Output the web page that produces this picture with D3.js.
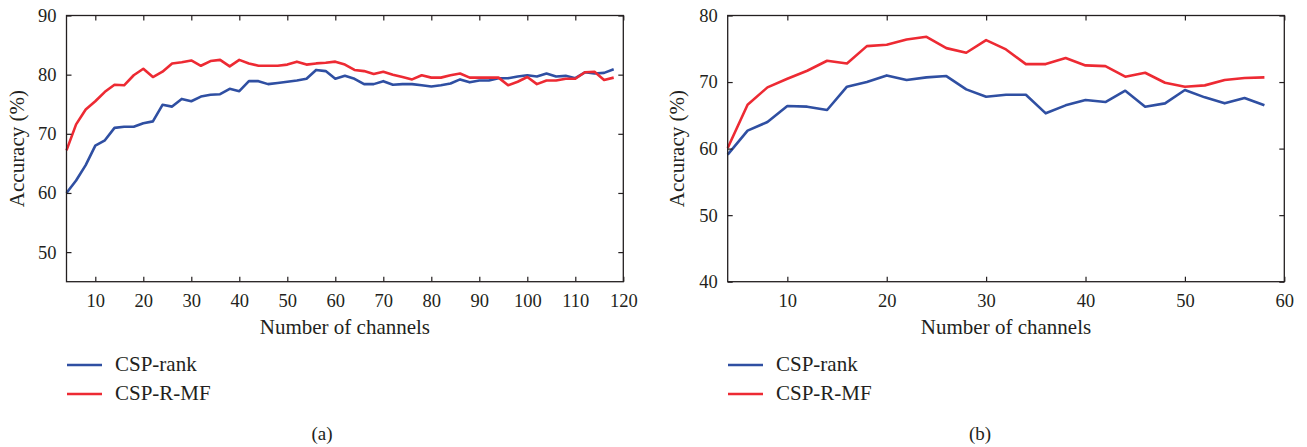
<!DOCTYPE html>
<html>
<head>
<meta charset="utf-8">
<script src="https://cdn.jsdelivr.net/npm/d3@7"></script>
<style>
  body { margin: 0; background: #fff; }
  text { font-family: "Liberation Serif", "DejaVu Serif", serif; fill: #231f20; }
</style>
</head>
<body>
<div id="chart"></div>
<script>
// panel (a)
var channelsA = [4, 6, 8, 10, 12, 14, 16, 18, 20, 22, 24, 26, 28, 30, 32, 34, 36, 38, 40, 42,
  44, 46, 48, 50, 52, 54, 56, 58, 60, 62, 64, 66, 68, 70, 72, 74, 76, 78, 80, 82,
  84, 86, 88, 90, 92, 94, 96, 98, 100, 102, 104, 106, 108, 110, 112, 114, 116, 118];
var rankA = [60.0, 62.1, 64.7, 68.0, 68.9, 71.0, 71.2, 71.2, 71.8, 72.1, 74.9, 74.6, 75.9, 75.5, 76.3, 76.6, 76.7, 77.6, 77.2, 78.9,
  78.9, 78.4, 78.6, 78.8, 79.0, 79.3, 80.8, 80.6, 79.3, 79.8, 79.3, 78.4, 78.4, 78.9, 78.3, 78.4, 78.4, 78.2, 78.0, 78.2,
  78.5, 79.2, 78.7, 79.0, 79.0, 79.4, 79.4, 79.7, 79.9, 79.7, 80.2, 79.7, 79.8, 79.4, 80.4, 80.2, 80.3, 80.9];
var rmfA = [67.2, 71.6, 74.1, 75.5, 77.1, 78.3, 78.2, 79.9, 81.0, 79.6, 80.5, 81.9, 82.1, 82.4, 81.5, 82.3, 82.5, 81.4, 82.5, 81.9,
  81.5, 81.5, 81.5, 81.7, 82.2, 81.7, 81.9, 82.0, 82.2, 81.7, 80.8, 80.6, 80.1, 80.5, 80.0, 79.6, 79.2, 79.9, 79.5, 79.5,
  79.9, 80.2, 79.5, 79.5, 79.5, 79.5, 78.2, 78.8, 79.6, 78.4, 79.0, 79.0, 79.3, 79.3, 80.4, 80.5, 79.1, 79.5];
var xTicksA = [10, 20, 30, 40, 50, 60, 70, 80, 90, 100, 110, 120];
var yTicksA = [50, 60, 70, 80, 90];

// panel (b)
var channelsB = [4, 6, 8, 10, 12, 14, 16, 18, 20, 22, 24, 26, 28, 30, 32, 34, 36, 38, 40, 42,
  44, 46, 48, 50, 52, 54, 56, 58];
var rankB = [59.1, 62.7, 64.0, 66.4, 66.3, 65.8, 69.3, 70.0, 71.0, 70.3, 70.7, 70.9, 68.9, 67.8, 68.1, 68.1, 65.3, 66.5, 67.3, 67.0,
  68.7, 66.3, 66.8, 68.8, 67.7, 66.8, 67.6, 66.5];
var rmfB = [60.1, 66.6, 69.2, 70.5, 71.7, 73.2, 72.8, 75.4, 75.6, 76.4, 76.8, 75.1, 74.4, 76.3, 74.9, 72.7, 72.7, 73.6, 72.5, 72.4,
  70.8, 71.4, 69.9, 69.3, 69.5, 70.3, 70.6, 70.7];
var xTicksB = [10, 20, 30, 40, 50, 60];
var yTicksB = [40, 50, 60, 70, 80];

var seriesNames = ["CSP-rank", "CSP-R-MF"];
var seriesColors = ["#2f4fa2", "#ed2a33"];

var W = 1307, H = 447;
var svg = d3.select("#chart").append("svg")
    .attr("width", W)
    .attr("height", H);

function drawPanel(opt) {
  var x = d3.scaleLinear().domain(opt.xDomain).range([opt.left, opt.right]);
  var y = d3.scaleLinear().domain(opt.yDomain).range([opt.bottom, opt.top]);
  var g = svg.append("g");
  var tickLen = 5;

  // lines
  var line = d3.line()
      .x(function(d) { return x(d[0]); })
      .y(function(d) { return y(d[1]); });
  [opt.rank, opt.rmf].forEach(function(vals, i) {
    g.append("path")
      .datum(opt.channels.map(function(c, k) { return [c, vals[k]]; }))
      .attr("fill", "none")
      .attr("stroke", seriesColors[i])
      .attr("stroke-width", 2.6)
      .attr("stroke-linejoin", "round")
      .attr("d", line);
  });

  // axes, ticks inward on all sides
  var bottomAxis = d3.axisBottom(x).tickValues(opt.xTicks).tickSizeInner(-tickLen).tickSizeOuter(0).tickPadding(12);
  var topAxis = d3.axisTop(x).tickValues(opt.xTicks).tickSizeInner(-tickLen).tickSizeOuter(0).tickFormat("");
  var leftAxis = d3.axisLeft(y).tickValues(opt.yTicks).tickSizeInner(-tickLen).tickSizeOuter(0).tickPadding(10);
  var rightAxis = d3.axisRight(y).tickValues(opt.yTicks).tickSizeInner(-tickLen).tickSizeOuter(0).tickFormat("");

  var axes = [
    g.append("g").attr("transform", "translate(0," + opt.bottom + ")").call(bottomAxis),
    g.append("g").attr("transform", "translate(0," + opt.top + ")").call(topAxis),
    g.append("g").attr("transform", "translate(" + opt.left + ",0)").call(leftAxis),
    g.append("g").attr("transform", "translate(" + opt.right + ",0)").call(rightAxis)
  ];
  axes.forEach(function(a) {
    a.select(".domain").remove();
    a.selectAll(".tick line").attr("stroke", "#231f20").attr("stroke-width", 1.2);
    a.selectAll(".tick text")
      .attr("font-family", "Liberation Serif, serif")
      .attr("font-size", 18.5)
      .attr("fill", "#231f20");
  });

  g.append("rect")
    .attr("x", opt.left)
    .attr("y", opt.top)
    .attr("width", opt.right - opt.left)
    .attr("height", opt.bottom - opt.top)
    .attr("fill", "none")
    .attr("stroke", "#231f20")
    .attr("stroke-width", 1.3);

  // axis titles
  g.append("text")
    .attr("x", (opt.left + opt.right) / 2)
    .attr("y", 334)
    .attr("text-anchor", "middle")
    .attr("font-size", 21)
    .text("Number of channels");

  g.append("text")
    .attr("transform", "translate(" + opt.yTitleX + "," + ((opt.top + opt.bottom) / 2) + ") rotate(-90)")
    .attr("text-anchor", "middle")
    .attr("font-size", 21)
    .text("Accuracy (%)");

  // legend
  seriesNames.forEach(function(name, i) {
    var ly = 365 + i * 29;
    g.append("line")
      .attr("x1", opt.legendX)
      .attr("x2", opt.legendX + 35)
      .attr("y1", ly)
      .attr("y2", ly)
      .attr("stroke", seriesColors[i])
      .attr("stroke-width", 2.6);
    g.append("text")
      .attr("x", opt.legendX + 48)
      .attr("y", ly + 6)
      .attr("font-size", 21)
      .text(name);
  });

  g.append("text")
    .attr("x", opt.captionX)
    .attr("y", 440)
    .attr("text-anchor", "middle")
    .attr("font-size", 19)
    .text(opt.caption);
}

drawPanel({
  channels: channelsA, rank: rankA, rmf: rmfA,
  xDomain: [4, 120], yDomain: [45, 90],
  xTicks: xTicksA, yTicks: yTicksA,
  left: 66.5, right: 623.3, top: 15.5, bottom: 281.7,
  yTitleX: 24, legendX: 67, captionX: 322, caption: "(a)"
});

drawPanel({
  channels: channelsB, rank: rankB, rmf: rmfB,
  xDomain: [4, 60], yDomain: [40, 80],
  xTicks: xTicksB, yTicks: yTicksB,
  left: 727.7, right: 1284.3, top: 15.5, bottom: 281.7,
  yTitleX: 684, legendX: 728, captionX: 980, caption: "(b)"
});
</script>
</body>
</html>
